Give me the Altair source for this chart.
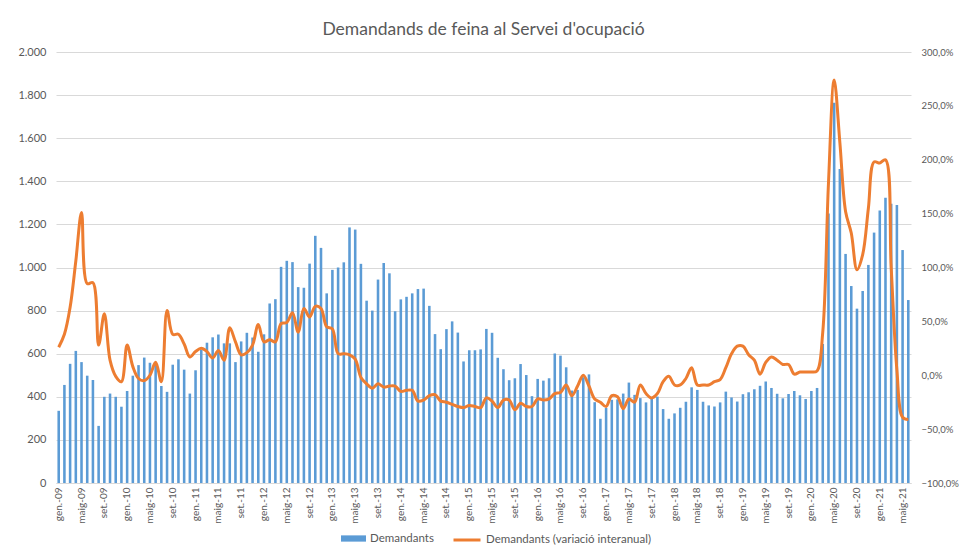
import altair as alt
import pandas as pd

month_abbr = ["gen.", "febr.", "març", "abr.", "maig", "juny", "jul.", "ag.", "set.", "oct.", "nov.", "des."]
years = ["09", "10", "11", "12", "13", "14", "15", "16", "17", "18", "19", "20", "21"]
mesos = [f"{m}-{y}" for y in years for m in month_abbr][:150]

demandants = [
    335, 455, 553, 613, 561, 498, 478, 265, 400, 415, 400, 354,
    427, 498, 547, 582, 558, 548, 450, 423, 549, 574, 526, 415,
    523, 618, 651, 676, 689, 648, 648, 561, 657, 697, 675, 609,
    690, 833, 853, 1003, 1031, 1025, 909, 906, 1018, 1147, 1091, 880,
    989, 1000, 1024, 1186, 1176, 1017, 846, 800, 944, 1021, 973, 797,
    852, 864, 880, 900, 902, 822, 691, 621, 714, 750, 698, 564,
    616, 616, 620, 715, 697, 581, 528, 477, 486, 552, 501, 403,
    483, 475, 486, 601, 591, 537, 429, 432, 491, 504, 375, 298,
    348, 386, 388, 415, 466, 409, 394, 374, 392, 401, 343, 298,
    323, 349, 377, 444, 432, 377, 360, 355, 374, 424, 397, 378,
    412, 421, 435, 451, 471, 441, 414, 393, 413, 427, 407, 390,
    427, 441, 645, 1251, 1765, 1457, 1063, 914, 809, 891, 1012, 1162,
    1264, 1324, 1296, 1290, 1081, 849,
]

variacio = [
    26, 38, 63, 106, 151, 85, 86, 28, 57, 14, -1, -6,
    28, 8, -3, -5, 0, 12, -6, 60, 38, 38, 29, 17,
    22, 25, 22, 16, 23, 14, 44, 31, 19, 21, 28, 47,
    31, 33, 31, 48, 49, 58, 40, 62, 54, 64, 62, 45,
    43, 20, 20, 19, 15, -2, -8, -12, -8, -11, -10, -10,
    -15, -14, -14, -24, -23, -19, -18, -24, -25, -27, -29, -30,
    -28, -29, -30, -21, -24, -30, -23, -23, -32, -26, -29, -29,
    -22, -23, -22, -17, -16, -9, -19, -10, 0, -10, -22, -25,
    -29, -19, -20, -31, -22, -25, -9, -17, -21, -17, -6, -1,
    -9, -9, -3, 7, -9, -9, -9, -6, -4, 7, 20, 27,
    27, 19, 14, 1, 12, 17, 14, 10, 10, 1, 3, 3,
    3, 4, 40, 178, 274, 216, 152, 132, 98, 112, 155, 198,
    197, 200, 100, 5, -39, -41,
]

serie_barres = "Demandants"
serie_linia = "Demandants (variació interanual)"

df = pd.DataFrame({
    "mes": mesos,
    "demandants": demandants,
    "variacio": variacio,
    "s1": serie_barres,
    "s2": serie_linia,
})

GRAY = "#595959"
FONT = "Lato"

x_enc = alt.X(
    "mes:N",
    sort=mesos,
    title=None,
    scale=alt.Scale(paddingInner=0.55, paddingOuter=0.25),
    axis=alt.Axis(
        values=mesos[::4],
        labelAngle=270,
        labelFontSize=10,
        labelColor=GRAY,
        labelPadding=4,
        ticks=False,
        domain=True,
        domainColor="#D9D9D9",
        grid=False,
    ),
)

bars = alt.Chart(df).mark_bar().encode(
    x=x_enc,
    y=alt.Y(
        "demandants:Q",
        title=None,
        scale=alt.Scale(domain=[0, 2000], nice=False),
        axis=alt.Axis(
            values=list(range(0, 2001, 200)),
            labelExpr="replace(format(datum.value, ',d'), ',', '.')",
            labelFontSize=11,
            labelColor=GRAY,
            labelPadding=10,
            ticks=False,
            domain=False,
            grid=True,
            gridColor="#D9D9D9",
        ),
    ),
    fill=alt.Fill(
        "s1:N",
        scale=alt.Scale(domain=[serie_barres], range=["#5B9BD5"]),
        legend=alt.Legend(
            title=None,
            orient="none",
            legendX=285,
            legendY=474,
            direction="horizontal",
            symbolType="M-1,-0.25H1V0.25H-1Z",
            symbolSize=625,
            symbolStrokeWidth=0,
            labelFontSize=11.5,
            labelColor=GRAY,
            labelFont=FONT,
            labelLimit=300,
        ),
    ),
)

line = alt.Chart(df).mark_line(interpolate="catmull-rom", strokeWidth=3).encode(
    x=x_enc,
    y=alt.Y(
        "variacio:Q",
        title=None,
        scale=alt.Scale(domain=[-100, 300], nice=False),
        axis=alt.Axis(
            orient="right",
            values=list(range(-100, 301, 50)),
            labelExpr="replace(format(datum.value, '.1f'), '.', ',') + '%'",
            labelFontSize=9.5,
            labelColor=GRAY,
            labelPadding=10,
            ticks=False,
            domain=False,
            grid=False,
        ),
    ),
    stroke=alt.Stroke(
        "s2:N",
        scale=alt.Scale(domain=[serie_linia], range=["#ED7D31"]),
        legend=alt.Legend(
            title=None,
            orient="none",
            legendX=396,
            legendY=473,
            direction="horizontal",
            symbolType="stroke",
            symbolSize=729,
            symbolStrokeWidth=3,
            labelFontSize=11.5,
            labelColor=GRAY,
            labelFont=FONT,
            labelLimit=300,
        ),
    ),
)

chart = alt.layer(bars, line).resolve_scale(
    y="independent", fill="independent", stroke="independent"
).properties(
    width=855,
    height=431,
    padding={"left": 48, "top": 44, "right": 48, "bottom": 62},
    autosize=alt.AutoSizeParams(type="none"),
    title=alt.TitleParams(
        "Demandands de feina al Servei d'ocupació",
        fontSize=17.5,
        fontWeight="normal",
        color=GRAY,
        font=FONT,
        anchor="middle",
        offset=8,
    ),
).configure_view(stroke=None).configure_axis(labelFont=FONT)

chart.save("out.html", embed_options={"renderer": "svg", "actions": False})
